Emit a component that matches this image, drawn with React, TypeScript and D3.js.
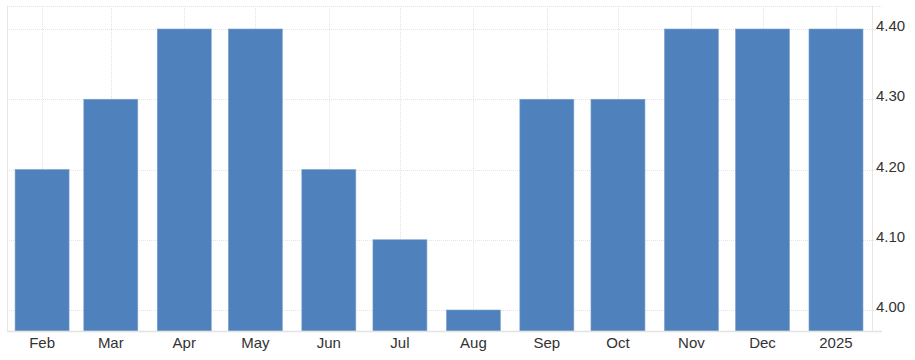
import React from "react";
import * as d3 from "d3";

const months: string[] = ["2024-02-01","2024-03-01","2024-04-01","2024-05-01","2024-06-01","2024-07-01","2024-08-01","2024-09-01","2024-10-01","2024-11-01","2024-12-01","2025-01-01"];
const labels: string[] = ["Feb","Mar","Apr","May","Jun","Jul","Aug","Sep","Oct","Nov","Dec","2025"];
const values: number[] = [4.2, 4.3, 4.4, 4.4, 4.2, 4.1, 4.0, 4.3, 4.3, 4.4, 4.4, 4.4];
const yTicks: number[] = [4.0, 4.1, 4.2, 4.3, 4.4];

const W = 915, H = 360;
const left = 7, right = 872, top = 6, bottom = 331;
const DAY = 86400000;

export default function App() {
  const dates = months.map((m) => d3.utcParse("%Y-%m-%d")(m) as Date);
  const x = d3.scaleUtc()
    .domain([new Date(dates[0].getTime() - 14.8 * DAY), new Date(dates[dates.length - 1].getTime() + 15.2 * DAY)])
    .range([left, right]);
  const y = d3.scaleLinear().domain([4.0, 4.4]).range([310, 29]);
  const bw = 54;
  const grid = "#e4e4e4";
  const font = "Arial, 'Liberation Sans', sans-serif";
  return (
    <svg width={W} height={H} style={{ position: "absolute", left: 0, top: 0, background: "#fff" }} fontFamily={font}>
      {/* horizontal grid */}
      <line x1={left} x2={882} y1={top + 0.5} y2={top + 0.5} stroke={grid} strokeDasharray="1,1" />
      {yTicks.map((t) => (
        <line key={t} x1={left} x2={882} y1={Math.round(y(t)) + 0.5} y2={Math.round(y(t)) + 0.5} stroke={grid} strokeDasharray="1,1" />
      ))}
      {/* vertical grid */}
      {dates.map((d, i) => (
        <line key={i} x1={Math.round(x(d)) + 0.5} x2={Math.round(x(d)) + 0.5} y1={top} y2={bottom} stroke={grid} strokeDasharray="1,1" />
      ))}
      <line x1={left + 0.5} x2={left + 0.5} y1={top} y2={bottom} stroke="#e6e6e6" />
      <line x1={right + 0.5} x2={right + 0.5} y1={top} y2={bottom} stroke="#e6e6e6" />
      {/* bars */}
      {dates.map((d, i) => (
        <rect key={i} x={x(d) - bw / 2} width={bw} y={y(values[i])} height={bottom - y(values[i])} fill="#4f81bd" stroke="#7fa2cf" strokeWidth={0.6} />
      ))}
      <line x1={left} x2={882} y1={bottom + 0.5} y2={bottom + 0.5} stroke="#e3e3e3" strokeWidth={1.5} />
      {/* x labels */}
      {dates.map((d, i) => (
        <text key={i} x={x(d)} y={348} textAnchor="middle" fontSize={15} fill="#333">{labels[i]}</text>
      ))}
      {/* y labels */}
      {yTicks.map((t) => (
        <text key={t} x={876} y={y(t) + 2} fontSize={15} fill="#333">{t.toFixed(2)}</text>
      ))}
    </svg>
  );
}
